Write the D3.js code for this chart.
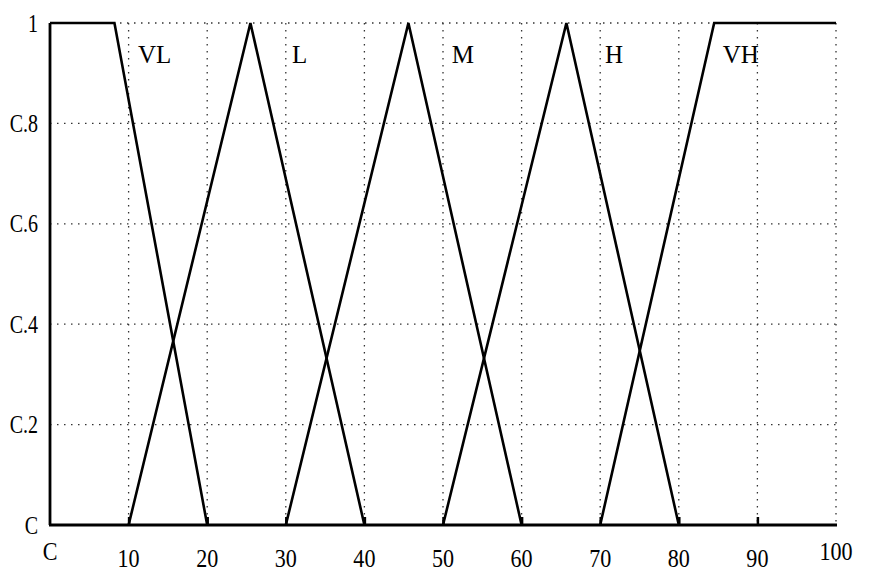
<!DOCTYPE html>
<html>
<head>
<meta charset="utf-8">
<script src="https://cdn.jsdelivr.net/npm/d3@7"></script>
<style>
  html, body { margin: 0; padding: 0; background: #fff; }
  svg { display: block; }
</style>
</head>
<body>
<svg id="chart" width="869" height="571"></svg>
<script>
// tick values and the labels as printed
const xTicks = [0, 10, 20, 30, 40, 50, 60, 70, 80, 90, 100];
const xTickLabels = ["C", "10", "20", "30", "40", "50", "60", "70", "80", "90", "100"];
const yTicks = [0, 0.2, 0.4, 0.6, 0.8, 1];
const yTickLabels = ["C", "C.2", "C.4", "C.6", "C.8", "1"];

// membership functions, [x, mu] vertices
const setNames = ["VL", "L", "M", "H", "VH"];
const vlPoints = [[0, 1], [8.2, 1], [20, 0]];
const lPoints = [[10, 0], [25.5, 1], [40, 0]];
const mPoints = [[30, 0], [45.6, 1], [60, 0]];
const hPoints = [[50, 0], [65.7, 1], [80, 0]];
const vhPoints = [[70, 0], [84.5, 1], [100, 1]];
const nameX = [11.2, 30.8, 51.1, 70.6, 85.6];
const nameMu = 0.92;

const sets = [vlPoints, lPoints, mPoints, hPoints, vhPoints];

const svg = d3.select("#chart");
const font = "'Liberation Serif', 'Times New Roman', serif";

const x = d3.scaleLinear().domain([0, 100]).range([50, 836]);
const y = d3.scaleLinear().domain([0, 1]).range([525, 23]);

svg.append("rect").attr("width", 869).attr("height", 571).attr("fill", "#fff");

// dotted grid
const grid = svg.append("g")
  .attr("stroke", "#333")
  .attr("stroke-width", 1.3)
  .attr("stroke-dasharray", "1.5,5.5");

grid.selectAll("line.v")
  .data(xTicks.filter((d) => d > 0))
  .join("line")
  .attr("class", "v")
  .attr("x1", (d) => x(d))
  .attr("x2", (d) => x(d))
  .attr("y1", y(1))
  .attr("y2", y(0));

grid.selectAll("line.h")
  .data(yTicks.filter((d) => d > 0))
  .join("line")
  .attr("class", "h")
  .attr("x1", x(0))
  .attr("x2", x(100))
  .attr("y1", (d) => y(d))
  .attr("y2", (d) => y(d));

// axes: bottom with inward ticks, plain left line
const xAxis = d3.axisBottom(x)
  .tickValues(xTicks.filter((d) => d > 0 && d < 100))
  .tickSize(-8)
  .tickFormat("");

const xg = svg.append("g")
  .attr("transform", `translate(0,${y(0)})`)
  .call(xAxis);
xg.select(".domain").remove();
xg.selectAll(".tick line").attr("stroke", "#000").attr("stroke-width", 2.5);

svg.append("line")
  .attr("x1", x(0) - 1)
  .attr("x2", x(100) + 1)
  .attr("y1", y(0))
  .attr("y2", y(0))
  .attr("stroke", "#000")
  .attr("stroke-width", 2.8);

svg.append("line")
  .attr("x1", x(0))
  .attr("x2", x(0))
  .attr("y1", y(0))
  .attr("y2", y(1))
  .attr("stroke", "#000")
  .attr("stroke-width", 2.8);

// tick labels, a bit condensed like the print
svg.append("g")
  .selectAll("text")
  .data(xTicks)
  .join("text")
  .attr("transform", (d, i) => {
    const ty = i === 0 || i === xTicks.length - 1 ? 560 : 567;
    return `translate(${x(d)},${ty}) scale(0.85,1)`;
  })
  .attr("text-anchor", "middle")
  .attr("font-family", font)
  .attr("font-size", 26)
  .attr("fill", "#000")
  .text((d, i) => xTickLabels[i]);

svg.append("g")
  .selectAll("text")
  .data(yTicks)
  .join("text")
  .attr("transform", (d) => `translate(38,${y(d)}) scale(0.8,1)`)
  .attr("dy", "0.34em")
  .attr("text-anchor", "end")
  .attr("font-family", font)
  .attr("font-size", 25)
  .attr("fill", "#000")
  .text((d, i) => yTickLabels[i]);

// membership function lines
const line = d3.line()
  .x((d) => x(d[0]))
  .y((d) => y(d[1]));

svg.append("g")
  .selectAll("path")
  .data(sets)
  .join("path")
  .attr("d", line)
  .attr("fill", "none")
  .attr("stroke", "#000")
  .attr("stroke-width", 2.6)
  .attr("stroke-linejoin", "miter");

// set names
svg.append("g")
  .selectAll("text")
  .data(setNames)
  .join("text")
  .attr("x", (d, i) => x(nameX[i]))
  .attr("y", y(nameMu))
  .attr("font-family", font)
  .attr("font-size", 25)
  .attr("fill", "#000")
  .text((d) => d);
</script>
</body>
</html>
